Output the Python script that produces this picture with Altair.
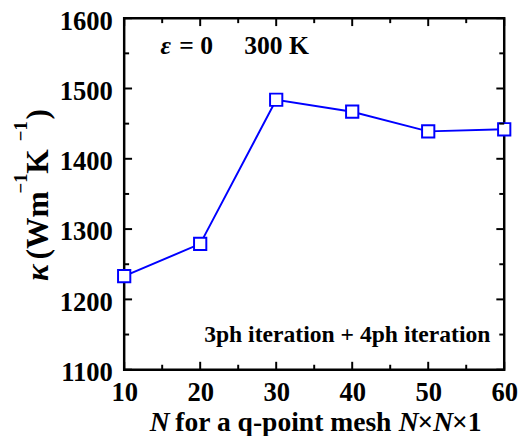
import altair as alt
import pandas as pd

N_vals = [10, 20, 30, 40, 50, 60]
kappa = [1233, 1279, 1484, 1467, 1439, 1442]

x_major = [10, 20, 30, 40, 50, 60]
x_minor = [15, 25, 35, 45, 55]
y_major = [1100, 1200, 1300, 1400, 1500, 1600]
y_minor = [1150, 1250, 1350, 1450, 1550]

W, H = 386, 357
FONT = "Liberation Serif"
BLUE = "#0000ff"

df = pd.DataFrame({"N": N_vals, "kappa": kappa})
xs = alt.Scale(domain=[10, 60], nice=False)
ys = alt.Scale(domain=[1100, 1600], nice=False)

base = alt.Chart(df)
line = base.mark_line(color=BLUE, strokeWidth=2).encode(
    x=alt.X("N:Q", scale=xs, axis=alt.Axis(
        values=x_major, format="d", title=None, ticks=False, domain=False,
        grid=False, labelFont=FONT, labelFontSize=27, labelFontWeight="bold", labelColor="black",
        labelPadding=10, labelFlush=False)),
    y=alt.Y("kappa:Q", scale=ys, axis=alt.Axis(
        values=y_major, format="d", title=None, ticks=False, domain=False, grid=False,
        labelFont=FONT, labelFontSize=27, labelFontWeight="bold", labelColor="black",
        labelPadding=12, labelOffset=3, labelFlush=False)),
)
pts = base.mark_point(shape="square", size=155, filled=False, fill="white", fillOpacity=1,
                      stroke=BLUE, strokeWidth=2, opacity=1).encode(
    x=alt.X("N:Q"), y=alt.Y("kappa:Q"))

def xticks(vals, length, top):
    d = pd.DataFrame({"N": vals})
    if top:
        return alt.Chart(d).mark_rule(color="black", strokeWidth=2).encode(
            x=alt.X("N:Q"), y=alt.value(0), y2=alt.value(length))
    return alt.Chart(d).mark_rule(color="black", strokeWidth=2).encode(
        x=alt.X("N:Q"), y=alt.value(H), y2=alt.value(H - length))

def yticks(vals, length, right):
    d = pd.DataFrame({"kappa": vals})
    if right:
        return alt.Chart(d).mark_rule(color="black", strokeWidth=2).encode(
            y=alt.Y("kappa:Q"), x=alt.value(W), x2=alt.value(W - length))
    return alt.Chart(d).mark_rule(color="black", strokeWidth=2).encode(
        y=alt.Y("kappa:Q"), x=alt.value(0), x2=alt.value(length))

ticks = [xticks(x_major, 8, False), xticks(x_major, 8, True), xticks(x_minor, 5, False), xticks(x_minor, 5, True),
         yticks(y_major, 8, False), yticks(y_major, 8, True), yticks(y_minor, 5, False), yticks(y_minor, 5, True)]

def label(txt, x, y, size, style="normal", align="left", baseline="middle", angle=0):
    return alt.Chart(pd.DataFrame({"t": [txt]})).mark_text(
        font=FONT, fontSize=size, fontWeight="bold", fontStyle=style, align=align,
        baseline=baseline, angle=angle, color="black").encode(
        text="t:N", x=alt.value(x), y=alt.value(y))

ann = [
    label("ε", 37, 28, 26, "italic"),
    label("= 0", 56, 28, 26),
    label("300 K", 122, 28, 26),
    label("3ph iteration + 4ph iteration", W - 14, 322, 24, align="right"),
]

# x-axis title pieces (italic N)
XB = 419
XS = 28
xtitle = [
    label("N", 26, XB, XS, "italic", baseline="alphabetic"),
    label("for a q-point mesh", 52, XB, XS, baseline="alphabetic"),
    label("N", 279, XB, XS, "italic", baseline="alphabetic"),
    label("×", 298, XB, XS, baseline="alphabetic"),
    label("N", 314, XB, XS, "italic", baseline="alphabetic"),
    label("×1", 333, XB, XS, baseline="alphabetic"),
]

# y-axis title pieces (rotated, with superscripts)
YB = -77
SB = -99
ytitle = [
    label("κ", YB, 267, 32, "italic", baseline="alphabetic", angle=270),
    label("(Wm", YB, 245, 32, baseline="alphabetic", angle=270),
    label("−1", SB, 178, 19, baseline="alphabetic", angle=270),
    label("K", YB, 158, 32, baseline="alphabetic", angle=270),
    label("−1", SB, 125, 19, baseline="alphabetic", angle=270),
    label(")", YB, 103, 32, baseline="alphabetic", angle=270),
]

chart = alt.layer(line, pts, *ticks, *ann, *xtitle, *ytitle).properties(
    width=W, height=H, autosize=alt.AutoSizeParams(type="none"),
    padding={"left": 118, "top": 7, "right": 14, "bottom": 64}
).configure_view(stroke="black", strokeWidth=2.5)

chart.save("out.html", embed_options={"renderer": "svg", "actions": False})
